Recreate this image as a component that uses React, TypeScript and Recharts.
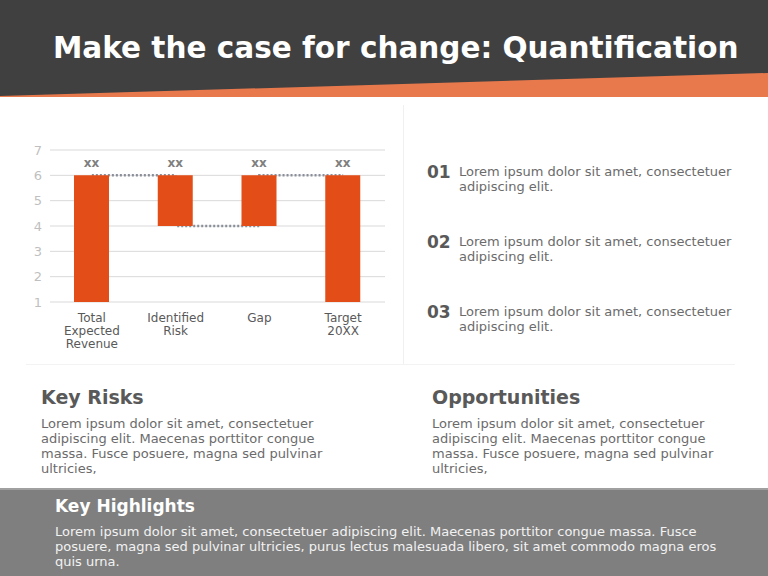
import React from "react";
import { ComposedChart, Bar, Line, XAxis, YAxis, CartesianGrid, LabelList } from "recharts";

const categories = ["Total Expected Revenue", "Identified Risk", "Gap", "Target 20XX"];
const barLow = [1, 4, 4, 1];
const barHigh = [6, 6, 6, 6];
const connectorLevels = [6, 4, 6, 6];
const valueLabels = ["xx", "xx", "xx", "xx"];
const yTicks = [1, 2, 3, 4, 5, 6, 7];

const listNumbers = ["01", "02", "03"];
const listTexts = [
  "Lorem ipsum dolor sit amet, consectetuer adipiscing elit.",
  "Lorem ipsum dolor sit amet, consectetuer adipiscing elit.",
  "Lorem ipsum dolor sit amet, consectetuer adipiscing elit.",
];

const data = categories.map((name, i) => ({
  name,
  range: [barLow[i], barHigh[i]],
  connector: connectorLevels[i],
  label: valueLabels[i],
}));

const FONT = "'DejaVu Sans', sans-serif";
const CHART_W = 390;
const CHART_H = 230;
const MARGIN = { top: 10, right: 5, bottom: 10, left: 0 };
const Y_W = 50;
const X_H = 58;

const CategoryTick = (props: any) => {
  const { x, y, payload } = props;
  const words = String(payload.value).split(" ");
  return (
    <text x={x} y={y} textAnchor="middle" fill="#595959" fontSize={12} fontFamily={FONT}>
      {words.map((w: string, i: number) => (
        <tspan key={i} x={x} dy={i === 0 ? 12 : 13}>
          {w}
        </tspan>
      ))}
    </text>
  );
};

export default function App() {
  const bodyText: React.CSSProperties = {
    fontFamily: FONT,
    fontSize: 13,
    lineHeight: "15px",
    color: "#6b6b6b",
  };
  return (
    <div
      style={{
        position: "absolute",
        left: 0,
        top: 0,
        width: 768,
        height: 576,
        background: "#ffffff",
        overflow: "hidden",
        fontFamily: FONT,
      }}
    >
      <svg width={768} height={100} style={{ position: "absolute", left: 0, top: 0 }}>
        <rect x={0} y={0} width={768} height={97} fill="#E8794D" />
        <polygon points="0,0 768,0 768,73 0,96" fill="#404040" />
      </svg>
      <div
        style={{
          position: "absolute",
          left: 53,
          top: 28,
          color: "#ffffff",
          fontSize: 29.5,
          fontWeight: "bold",
          fontFamily: FONT,
          whiteSpace: "nowrap",
          lineHeight: "40px",
        }}
      >
        Make the case for change: Quantification
      </div>

      <div style={{ position: "absolute", left: 403, top: 105, width: 1, height: 259, background: "#f0f0f0" }} />
      <div style={{ position: "absolute", left: 26, top: 364, width: 709, height: 1, background: "#f3f3f3" }} />

      {/* bottom layer: grid, axes and connectors */}
      <div style={{ position: "absolute", left: 0, top: 140 }}>
        <ComposedChart width={CHART_W} height={CHART_H} data={data} margin={MARGIN}>
          <CartesianGrid vertical={false} stroke="#d9d9d9" />
          <XAxis
            dataKey="name"
            axisLine={false}
            tickLine={false}
            height={X_H}
            interval={0}
            tick={<CategoryTick />}
          />
          <YAxis
            domain={[1, 7]}
            ticks={yTicks}
            axisLine={false}
            tickLine={false}
            width={Y_W}
            tick={{ fill: "#bfbfbf", fontSize: 13, fontFamily: FONT }}
          />
          <Bar dataKey="range" fill="none" barSize={35} isAnimationActive={false} />
          <Line
            dataKey="connector"
            type="stepAfter"
            stroke="#8a8f99"
            strokeWidth={2.5}
            strokeDasharray="2 2"
            dot={false}
            activeDot={false}
            isAnimationActive={false}
          />
        </ComposedChart>
      </div>

      {/* top layer: floating bars and labels */}
      <div style={{ position: "absolute", left: 0, top: 140 }}>
        <ComposedChart
          width={CHART_W}
          height={CHART_H}
          data={data}
          margin={{
            top: MARGIN.top,
            right: MARGIN.right,
            bottom: MARGIN.bottom + X_H,
            left: MARGIN.left + Y_W,
          }}
        >
          <XAxis dataKey="name" hide />
          <YAxis domain={[1, 7]} ticks={yTicks} hide />
          <Bar dataKey="range" fill="#E34E18" barSize={35} isAnimationActive={false}>
            <LabelList
              dataKey="label"
              position="top"
              offset={8}
              fill="#7f7f7f"
              fontSize={12}
              fontWeight="bold"
              fontFamily={FONT}
            />
          </Bar>
        </ComposedChart>
      </div>

      {listNumbers.map((n, i) => (
        <div key={n} style={{ position: "absolute", left: 427, top: 162 + i * 70 }}>
          <div
            style={{
              position: "absolute",
              left: 0,
              top: 0,
              fontSize: 17,
              fontWeight: "bold",
              color: "#595959",
              fontFamily: FONT,
              lineHeight: "20px",
            }}
          >
            {n}
          </div>
          <div style={{ ...bodyText, position: "absolute", left: 32, top: 2, width: 290 }}>{listTexts[i]}</div>
        </div>
      ))}

      <div
        style={{
          position: "absolute",
          left: 41,
          top: 384,
          fontSize: 19,
          fontWeight: "bold",
          color: "#595959",
          lineHeight: "26px",
        }}
      >
        Key Risks
      </div>
      <div style={{ ...bodyText, position: "absolute", left: 41, top: 416, width: 300 }}>
        Lorem ipsum dolor sit amet, consectetuer adipiscing elit. Maecenas porttitor congue massa. Fusce posuere,
        magna sed pulvinar ultricies,
      </div>

      <div
        style={{
          position: "absolute",
          left: 432,
          top: 384,
          fontSize: 19,
          fontWeight: "bold",
          color: "#595959",
          lineHeight: "26px",
        }}
      >
        Opportunities
      </div>
      <div style={{ ...bodyText, position: "absolute", left: 432, top: 416, width: 300 }}>
        Lorem ipsum dolor sit amet, consectetuer adipiscing elit. Maecenas porttitor congue massa. Fusce posuere,
        magna sed pulvinar ultricies,
      </div>

      <div
        style={{
          position: "absolute",
          left: 0,
          top: 488,
          width: 768,
          height: 88,
          background: "#7f7f7f",
          borderTop: "2px solid #a0a0a0",
          boxSizing: "border-box",
        }}
      />
      <div
        style={{
          position: "absolute",
          left: 55,
          top: 494,
          fontSize: 17,
          fontWeight: "bold",
          color: "#ffffff",
          lineHeight: "24px",
        }}
      >
        Key Highlights
      </div>
      <div
        style={{
          ...bodyText,
          color: "#f2f2f2",
          position: "absolute",
          left: 55,
          top: 524,
          width: 665,
        }}
      >
        Lorem ipsum dolor sit amet, consectetuer adipiscing elit. Maecenas porttitor congue massa. Fusce posuere, magna
        sed pulvinar ultricies, purus lectus malesuada libero, sit amet commodo magna eros quis urna.
      </div>
    </div>
  );
}
